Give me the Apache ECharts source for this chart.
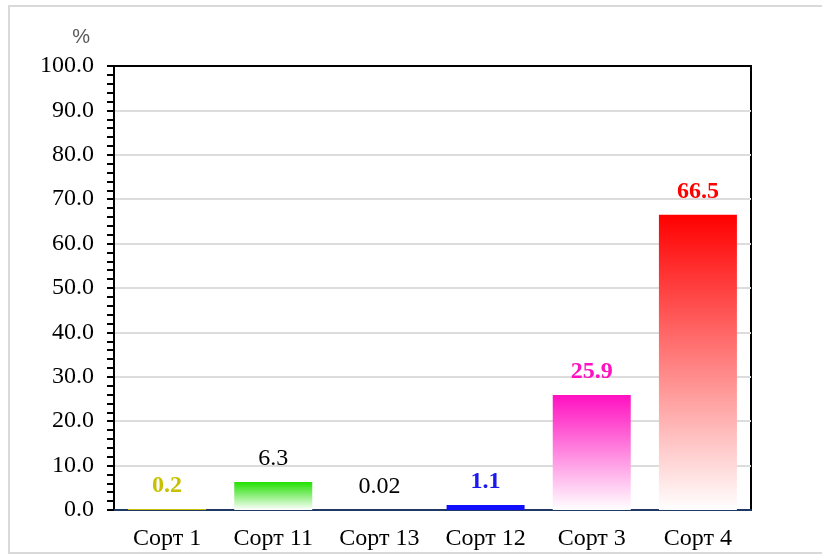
<!DOCTYPE html>
<html>
<head>
<meta charset="utf-8">
<script src="https://cdn.jsdelivr.net/npm/echarts@6/dist/echarts.min.js"></script>
<style>
  html, body { margin: 0; padding: 0; background: #fff; }
  #chart { width: 822px; height: 556px; }
</style>
</head>
<body>
<div id="chart"></div>
<script>
// данные
const categories = ['Сорт 1', 'Сорт 11', 'Сорт 13', 'Сорт 12', 'Сорт 3', 'Сорт 4']
const values = [0.2, 6.3, 0.02, 1.1, 25.9, 66.5]
const valueLabels = ['0.2', '6.3', '0.02', '1.1', '25.9', '66.5']
const yTicks = [0, 10, 20, 30, 40, 50, 60, 70, 80, 90, 100]

// стили столбцов
const barColors = ['#c8c000', '#22e000', '#000000', '#1010ff', '#ff10c0', '#ff0000']
const labelColors = ['#c8c000', '#000000', '#000000', '#1a1aee', '#ff10c0', '#ff0000']
const labelBold = [true, false, false, true, true, true]
const serif = '"Liberation Serif", "Times New Roman", serif'

const chart = echarts.init(document.getElementById('chart'))

const barData = values.map((v, i) => ({
  value: v,
  itemStyle: {
    color: i === 3 || i === 0 || i === 2
      ? barColors[i]
      : new echarts.graphic.LinearGradient(0, 0, 0, 1, [
        { offset: 0, color: barColors[i] },
        { offset: 1, color: '#ffffff' }
      ])
  },
  label: {
    color: labelColors[i],
    fontWeight: labelBold[i] ? 'bold' : 'normal',
    formatter: () => valueLabels[i]
  }
}))

chart.setOption({
  animation: false,
  backgroundColor: '#fff',
  graphic: [
    {
      type: 'rect',
      shape: { x: 9, y: 6, width: 822, height: 547 },
      style: { fill: 'none', stroke: '#d9d9d9', lineWidth: 2 },
      silent: true
    }
  ],
  grid: {
    left: 114,
    top: 66,
    right: 71,
    bottom: 46,
    show: true,
    borderColor: '#000',
    borderWidth: 2
  },
  xAxis: {
    type: 'category',
    data: categories,
    axisLine: { show: true, lineStyle: { color: '#203864', width: 2 } },
    axisTick: { show: false },
    axisLabel: {
      margin: 17,
      color: '#000',
      fontSize: 24,
      fontFamily: serif
    },
    splitLine: { show: false }
  },
  yAxis: {
    type: 'value',
    min: yTicks[0],
    max: yTicks[yTicks.length - 1],
    interval: 10,
    name: '%',
    nameLocation: 'end',
    nameGap: 29,
    nameTextStyle: {
      color: '#595959',
      fontSize: 20,
      fontFamily: '"Liberation Sans", Arial, sans-serif',
      align: 'right',
      verticalAlign: 'middle',
      padding: [0, 24, 0, 0]
    },
    axisLine: { show: true, lineStyle: { color: '#000', width: 2 } },
    axisTick: { show: true, inside: false, length: 7, lineStyle: { color: '#000', width: 2 } },
    minorTick: { show: true, splitNumber: 5, length: 7, lineStyle: { color: '#000', width: 2 } },
    axisLabel: {
      margin: 20,
      color: '#000',
      fontSize: 24,
      fontFamily: serif,
      formatter: v => v.toFixed(1)
    },
    splitLine: {
      show: true,
      showMinLine: false,
      showMaxLine: false,
      lineStyle: { color: '#dcdcdc', width: 2 }
    }
  },
  series: [
    {
      type: 'bar',
      barWidth: 78,
      data: barData,
      label: {
        show: true,
        position: 'top',
        distance: 11,
        fontSize: 24,
        fontFamily: serif
      }
    }
  ]
})
</script>
</body>
</html>
